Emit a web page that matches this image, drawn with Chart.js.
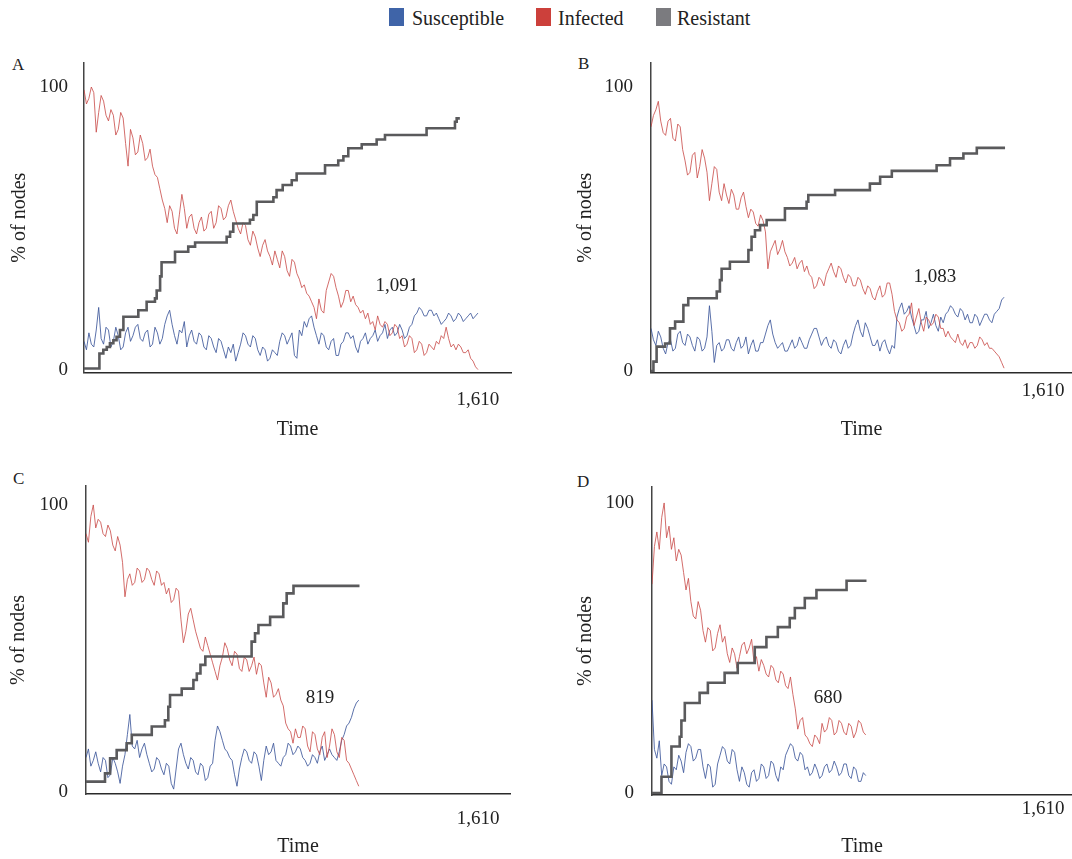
<!DOCTYPE html>
<html>
<head>
<meta charset="utf-8">
<script src="https://cdn.jsdelivr.net/npm/chart.js@4.4.0/dist/chart.umd.min.js"></script>
<style>
  html, body { margin: 0; padding: 0; background: #ffffff; }
  body { width: 1072px; height: 859px; position: relative; overflow: hidden; font-family: "Liberation Serif", "Times New Roman", serif; color: #222; }
  .lg-box { position: absolute; width: 15px; height: 18px; }
  .lg-txt { position: absolute; font-size: 20px; line-height: 20px; white-space: nowrap; color: #222; }
  .letter { position: absolute; font-size: 17px; line-height: 17px; color: #222; }
  canvas { position: absolute; }
</style>
</head>
<body>
<div class="lg-box" style="left:389px; top:8px; background:#3f64a8;"></div>
<div class="lg-txt" style="left:412px; top:8px;">Susceptible</div>
<div class="lg-box" style="left:536px; top:8px; background:#cc403b;"></div>
<div class="lg-txt" style="left:558px; top:8px;">Infected</div>
<div class="lg-box" style="left:656px; top:8px; background:#7b7b7f;"></div>
<div class="lg-txt" style="left:677px; top:8px;">Resistant</div>

<div class="letter" style="left:12px; top:56px;">A</div>
<div class="letter" style="left:578px; top:55px;">B</div>
<div class="letter" style="left:13px; top:470px;">C</div>
<div class="letter" style="left:577px; top:473px;">D</div>

<canvas id="cA" width="512" height="400" style="left:0px; top:50px;"></canvas>
<canvas id="cB" width="505" height="400" style="left:567px; top:50px;"></canvas>
<canvas id="cC" width="510" height="389" style="left:2px; top:470px;"></canvas>
<canvas id="cD" width="504" height="389" style="left:568px; top:470px;"></canvas>

<script>
// ---- shared time samples (simulation steps) ----
const time = [
  0,10,20,30,40,50,60,70,80,90,
  100,110,120,130,140,150,160,170,180,190,
  200,210,220,230,240,250,260,270,280,290,
  300,310,320,330,340,350,360,370,380,390,
  400,410,420,430,440,450,460,470,480,490,
  500,510,520,530,540,550,560,570,580,590,
  600,610,620,630,640,650,660,670,680,690,
  700,710,720,730,740,750,760,770,780,790,
  800,810,820,830,840,850,860,870,880,890,
  900,910,920,930,940,950,960,970,980,990,
  1000,1010,1020,1030,1040,1050,1060,1070,1080,1090,
  1100,1110,1120,1130,1140,1150,1160,1170,1180,1190,
  1200,1210,1220,1230,1240,1250,1260,1270,1280,1290,
  1300,1310,1320,1330,1340,1350,1360,1370,1380,1390,
  1400,1410,1420,1430,1440,1450,1460,1470,1480,1490,
  1500,1510,1520,1530,1540,1550,1560,1570,1580,1590,
  1600,1610];

const seriesNames = ['Susceptible', 'Infected', 'Resistant'];
const yTickValues = [0, 100];
const xTickValues = [1610];
const xTickLabels = ['1,610'];
const yAxisTitle = '% of nodes';
const xAxisTitle = 'Time';

// ---- Panel A ----
const infectedA = [
  99,94,96,100,98,84,91,97,95,90,
  88,92,90,83,85,91,89,80,72,85,
  82,76,77,83,80,74,75,78,72,69,
  68,64,60,57,52,58,56,50,48,55,
  62,57,50,54,55,50,48,52,54,49,
  50,55,56,50,52,58,57,53,54,58,
  60,56,53,50,48,52,51,46,44,49,
  47,43,40,44,46,42,40,37,42,39,
  36,42,40,35,33,39,38,34,32,29,
  30,27,26,24,22,18,25,21,20,28,
  31,34,33,29,26,22,24,28,28,24,
  26,23,22,20,21,18,20,16,17,14,
  19,16,15,17,16,12,13,16,15,11,
  12,8,9,12,11,6,7,10,9,5,
  6,9,8,7,10,9,12,11,15,11,
  8,9,7,9,8,6,6,7,4,3,
  1,0];
const susceptibleA = [
  10,7,13,9,8,14,22,11,9,15,
  14,8,10,15,12,7,8,13,15,10,
  12,15,16,11,10,13,14,8,9,15,
  13,9,11,16,19,21,16,12,9,14,
  13,17,8,12,14,10,9,13,12,8,
  7,12,11,8,6,11,10,7,4,8,
  6,9,3,6,9,13,12,9,8,12,
  11,7,5,8,7,3,4,7,6,5,
  10,13,12,9,11,13,5,4,14,12,
  17,15,18,19,15,12,9,13,12,8,
  7,10,11,5,5,9,10,13,13,11,
  12,8,6,10,11,13,9,11,12,14,
  10,12,13,16,11,14,15,12,13,16,
  14,11,12,15,16,19,20,22,21,19,
  19,21,21,19,20,18,16,17,18,20,
  19,17,18,20,19,17,18,19,20,18,
  19,20];
const resistantTimeA = [0,63,79,93,106,120,133,147,161,222,256,290,297,311,317,372,426,454,583,597,
  610,678,692,706,774,787,812,849,869,985,1039,1060,1080,1135,1196,1230,1400,1516,1523,1536];
const resistantA = [0.4,5.7,7,8,9.3,10.4,11.6,14,18.7,21,24,25.2,28,33,38,41.7,43.5,45,47,48.8,
  51.7,53,54.7,59.4,61,63.5,65.3,67,69.4,72.3,74,75.5,78.3,79.7,81.4,83,85.4,87.7,88.9,88.9];
const noteA = {t: 1279, v: 29.6, text: '1,091'};

// ---- Panel B ----
const infectedB = [
  86,90,92,95,88,84,83,88,89,82,
  81,87,86,78,74,69,70,76,77,68,
  72,78,75,70,60,66,72,71,63,60,
  66,62,59,64,62,57,57,61,63,58,
  54,57,56,52,51,55,53,49,36,42,
  44,46,41,43,46,42,40,37,38,40,
  36,38,39,35,37,34,33,29,30,33,
  32,30,34,36,38,35,33,37,36,33,
  31,34,33,30,30,33,32,29,27,30,
  29,26,25,28,30,26,27,31,31,27,
  21,18,17,14,15,19,20,24,16,19,
  22,17,14,19,18,16,17,20,19,15,
  15,12,14,12,11,10,13,10,9,11,
  8,10,10,8,9,12,11,9,10,8,
  8,7,6,5,3,1];
const susceptibleB = [
  15,11,9,14,12,8,6,10,11,7,
  8,13,14,10,9,13,12,9,7,12,
  11,7,8,12,23,14,3,9,10,7,
  8,11,11,8,7,10,12,8,9,12,
  6,9,11,7,7,10,10,13,16,18,
  13,10,8,9,10,7,7,9,11,8,
  9,12,10,8,8,11,13,15,15,12,
  9,11,12,9,8,11,10,7,6,9,
  11,8,9,13,16,18,14,12,17,15,
  12,9,9,11,7,10,11,8,6,9,
  8,19,22,24,20,21,23,19,16,13,
  14,18,18,21,15,17,20,16,14,19,
  17,20,21,23,22,20,19,22,21,18,
  20,17,17,20,19,16,18,20,20,18,
  17,20,21,22,25,26];
const resistantTimeB = [0,10,23,58,78,99,133,153,270,283,290,324,400,413,427,448,475,550,639,646,
  756,899,941,989,1173,1228,1283,1338,1454];
const resistantB = [0,3.3,8.6,9.7,15,17.4,23.2,25.6,28,32,36,38.5,42.6,47.3,49.6,51.4,53.2,57.3,59.6,62,
  63.7,66,68.4,70.5,72.5,74.9,76.6,78.6,78.6];
const noteB = {t: 1166, v: 33, text: '1,083'};

// ---- Panel C ----
const infectedC = [
  90,87,96,100,92,95,94,90,89,93,
  91,86,84,89,86,80,68,74,76,72,
  73,78,77,73,74,78,77,74,72,77,
  76,72,73,69,71,66,67,71,70,60,
  52,56,62,64,60,56,53,50,49,54,
  51,48,45,42,39,44,47,52,50,46,
  44,49,48,43,42,47,46,42,44,47,
  41,45,44,38,33,40,38,33,34,36,
  32,30,24,22,21,17,22,19,19,23,
  22,16,14,21,20,15,13,19,21,12,
  16,22,20,14,12,19,18,11,10,8,
  6,4,2];
const susceptibleC = [
  12,15,9,11,14,10,7,12,11,5,
  6,12,10,7,3,9,13,20,27,16,
  15,18,12,15,17,13,10,7,8,12,
  11,8,6,10,9,3,1,8,15,17,
  13,10,8,12,11,7,6,10,9,4,
  5,9,10,18,23,21,18,15,14,12,
  11,6,2,8,12,15,14,11,10,14,
  13,9,4,11,16,13,14,17,11,10,
  9,12,13,17,16,13,14,16,15,12,
  11,9,10,13,12,10,14,16,11,13,
  15,13,12,11,14,18,20,23,24,26,
  29,31,32];
const resistantTimeC = [0,78,99,126,167,188,270,324,338,345,393,441,455,470,490,680,694,708,756,810,824,852,1123];
const resistantC = [3.6,6.5,11.7,14.6,17,19.9,22.8,25,29.7,33.8,36,39,41.3,44.3,47.2,52.4,55.3,58.2,61,65.7,69.2,71.8,71.8];
const noteC = {t: 961, v: 32.8, text: '819'};

// ---- Panel D ----
const infectedD = [
  72,85,90,84,95,100,88,92,84,88,
  80,84,82,76,70,74,66,61,60,66,
  63,56,52,57,56,49,50,55,58,52,
  54,48,45,50,48,43,47,51,52,48,
  50,53,45,47,42,46,44,41,40,44,
  43,39,38,42,41,37,36,40,34,29,
  22,25,26,20,19,17,16,20,19,17,
  24,21,22,26,25,20,21,25,24,21,
  20,24,23,19,21,25,24,21,20];
const susceptibleD = [
  32,15,12,18,6,10,9,4,3,9,
  8,13,11,7,14,17,16,11,12,15,
  15,9,5,10,9,2,3,10,13,16,
  15,11,10,15,14,8,4,9,7,3,
  2,7,8,4,5,10,9,5,6,11,
  10,6,4,9,8,13,15,17,16,12,
  11,14,13,8,9,6,7,10,8,5,
  6,9,10,7,8,11,9,6,7,10,
  10,6,5,9,8,4,4,7,6];
const resistantTimeD = [0,39,80,114,121,135,196,230,299,353,423,471,518,567,588,629,677,801,883];
const resistantD = [0,5.6,16,19.4,25,31,34.5,38,41.4,44.8,50.3,53.8,57.2,60.3,63.8,67.2,70,73.2,73.2];
const noteD = {t: 725, v: 32.8, text: '680'};

// ---- colours / styles ----
const COL_S = 'rgba(62,88,155,0.85)';
const COL_I = 'rgba(200,72,70,0.80)';
const COL_R = '#5a5a5c';
const FONT = '"Liberation Serif", "Times New Roman", serif';

const notePlugin = {
  id: 'note',
  afterDatasetsDraw(chart, args, opts) {
    if (!opts || !opts.text) return;
    const {ctx, scales} = chart;
    const px = scales.x.getPixelForValue(opts.t);
    const py = scales.y.getPixelForValue(opts.v);
    ctx.save();
    ctx.font = '19px ' + FONT;
    ctx.fillStyle = '#222';
    ctx.textAlign = 'center';
    ctx.textBaseline = 'middle';
    ctx.fillText(opts.text, px, py);
    ctx.restore();
  }
};

function pts(xs, ys) {
  return ys.map((v, i) => ({x: xs[i], y: v}));
}

function zeroPad(s) {
  s.paddingTop = 0; s.paddingBottom = 0; s.paddingLeft = 0; s.paddingRight = 0;
}

function makePanel(id, cfg) {
  new Chart(document.getElementById(id), {
    type: 'line',
    data: {
      datasets: [
        { label: seriesNames[2], data: pts(cfg.rt, cfg.r), borderColor: COL_R, borderWidth: 2.6,
          stepped: 'before', pointRadius: 0, fill: false },
        { label: seriesNames[1], data: pts(time, cfg.i), borderColor: COL_I, borderWidth: 1,
          pointRadius: 0, tension: 0, fill: false },
        { label: seriesNames[0], data: pts(time, cfg.s), borderColor: COL_S, borderWidth: 1,
          pointRadius: 0, tension: 0, fill: false }
      ]
    },
    options: {
      responsive: false,
      animation: false,
      devicePixelRatio: 1,
      layout: { padding: { top: cfg.padTop, right: cfg.padRight, left: 0, bottom: 0 } },
      plugins: { legend: { display: false }, tooltip: { enabled: false }, note: cfg.note },
      scales: {
        x: {
          type: 'linear', min: 0, max: cfg.xMax,
          grid: { display: false, drawTicks: false },
          border: { display: true, color: '#2a2a2a', width: 1.5 },
          afterBuildTicks: (s) => { s.ticks = xTickValues.map(v => ({value: v})); },
          afterFit: (s) => { s.height = cfg.xH; zeroPad(s); },
          ticks: {
            padding: cfg.xTickPad, color: '#222', font: { family: FONT, size: 19 },
            maxRotation: 0, autoSkip: false,
            callback: (v) => { const k = xTickValues.indexOf(v); return k >= 0 ? xTickLabels[k] : ''; }
          },
          title: { display: true, text: xAxisTitle, color: '#222', font: { family: FONT, size: 20 },
                   padding: { top: 0, bottom: cfg.xTitleBottom } }
        },
        y: {
          type: 'linear', min: cfg.yMin, max: cfg.yMax,
          grid: { display: false, drawTicks: false },
          border: { display: true, color: '#444', width: 1.5 },
          afterBuildTicks: (s) => { s.ticks = yTickValues.map(v => ({value: v})); },
          afterFit: (s) => { s.width = 84; zeroPad(s); },
          ticks: {
            padding: cfg.yTickPad, color: '#222', font: { family: FONT, size: 19 },
            callback: (v) => String(v)
          },
          title: { display: true, text: yAxisTitle, color: '#222', font: { family: FONT, size: 20 },
                   padding: { top: cfg.yTitlePad, bottom: 0 } }
        }
      }
    },
    plugins: [notePlugin]
  });
}

makePanel('cA', { i: infectedA, s: susceptibleA, rt: resistantTimeA, r: resistantA, note: noteA,
  padTop: 12.7, padRight: 1, xH: 77.3, yMin: -1.1, yMax: 108.6, xMax: 1745,
  xTickPad: 16, xTitleBottom: 8, yTickPad: 16, yTitlePad: 8 });
makePanel('cB', { i: infectedB, s: susceptibleB, rt: resistantTimeB, r: resistantB, note: noteB,
  padTop: 12.7, padRight: 0, xH: 77.3, yMin: -0.6, yMax: 108.6, xMax: 1729,
  xTickPad: 7, xTitleBottom: 8, yTickPad: 18, yTitlePad: 7 });
makePanel('cC', { i: infectedC, s: susceptibleC, rt: resistantTimeC, r: resistantC, note: noteC,
  padTop: 16, padRight: 2, xH: 65, yMin: -0.7, yMax: 106.6, xMax: 1741,
  xTickPad: 13.6, xTitleBottom: 0, yTickPad: 18, yTitlePad: 4.7 });
makePanel('cD', { i: infectedD, s: susceptibleD, rt: resistantTimeD, r: resistantD, note: noteD,
  padTop: 17, padRight: 0, xH: 64, yMin: -0.7, yMax: 105.5, xMax: 1729,
  xTickPad: 3, xTitleBottom: 0, yTickPad: 18, yTitlePad: 5.7 });
</script>
</body>
</html>
